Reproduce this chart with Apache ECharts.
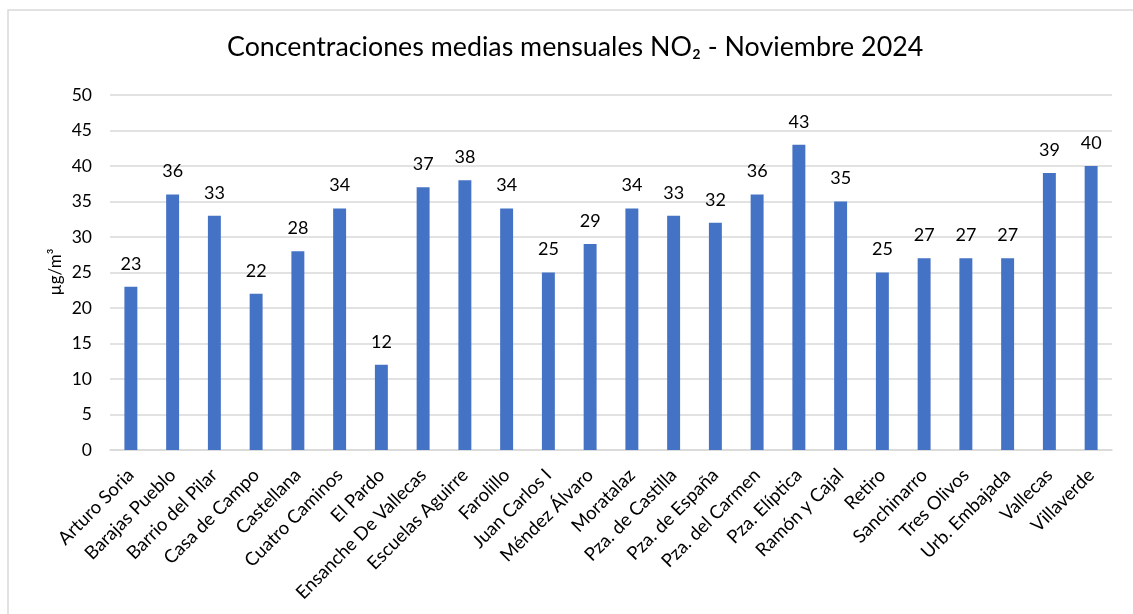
<!DOCTYPE html>
<html>
<head>
<meta charset="utf-8">
<script src="https://cdn.jsdelivr.net/npm/echarts@6/dist/echarts.min.js"></script>
<style>
  html, body { margin: 0; padding: 0; background: #fff; }
  #main { width: 1133px; height: 614px; }
</style>
</head>
<body>
<div id="main"></div>
<script>
  // estaciones y valores medios (µg/m³)
  var estaciones = ['Arturo Soria', 'Barajas Pueblo', 'Barrio del Pilar', 'Casa de Campo', 'Castellana',
    'Cuatro Caminos', 'El Pardo', 'Ensanche De Vallecas', 'Escuelas Aguirre', 'Farolillo',
    'Juan Carlos I', 'Méndez Álvaro', 'Moratalaz', 'Pza. de Castilla', 'Pza. de España',
    'Pza. del Carmen', 'Pza. Elíptica', 'Ramón y Cajal', 'Retiro', 'Sanchinarro',
    'Tres Olivos', 'Urb. Embajada', 'Vallecas', 'Villaverde'];
  var valores = [23, 36, 33, 22, 28, 34, 12, 37, 38, 34, 25, 29, 34, 33, 32, 36, 43, 35, 25, 27, 27, 27, 39, 40];

  var myChart = echarts.init(document.getElementById('main'));
  var fuente = 'Lato, "Noto Sans", sans-serif';

  var option = {
    animation: false,
    textStyle: { fontFamily: fuente },
    title: {
      text: 'Concentraciones medias mensuales NO₂ - Noviembre 2024',
      left: 222,
      top: 29,
      textStyle: { fontFamily: fuente, fontSize: 26.8, fontWeight: 'normal', color: '#000' }
    },
    graphic: [{
      type: 'rect',
      shape: { x: 8, y: 10, width: 1200, height: 700 },
      style: { fill: 'none', stroke: '#d9d9d9', lineWidth: 1.5 },
      silent: true
    }, {
      type: 'text',
      rotation: Math.PI / 2,
      style: { text: 'µg/m³', fontFamily: fuente, fontSize: 17, fill: '#000', align: 'center', verticalAlign: 'middle' },
      x: 56, y: 272
    }],
    grid: { left: 110, right: 21, top: 95, bottom: 164 },
    xAxis: {
      type: 'category',
      data: estaciones,
      axisTick: { show: false },
      axisLine: { lineStyle: { color: '#d9d9d9', width: 1.5 } },
      axisLabel: {
        interval: 0,
        rotate: 45,
        margin: 22,
        padding: [6, 0, 0, 0],
        fontSize: 18.5,
        color: '#000',
        fontFamily: fuente
      }
    },
    yAxis: {
      type: 'value',
      min: 0,
      max: 50,
      interval: 5,
      axisLine: { show: false },
      axisTick: { show: false },
      splitLine: { lineStyle: { color: '#d9d9d9', width: 1.5 } },
      axisLabel: { fontSize: 17.5, color: '#000', margin: 18, fontFamily: fuente }
    },
    series: [{
      type: 'bar',
      data: valores,
      barWidth: '31%',
      itemStyle: { color: '#4472C4' },
      label: {
        show: true,
        position: 'top',
        distance: 14,
        fontSize: 18,
        color: '#000',
        fontFamily: fuente
      }
    }]
  };
  myChart.setOption(option);
</script>
</body>
</html>
